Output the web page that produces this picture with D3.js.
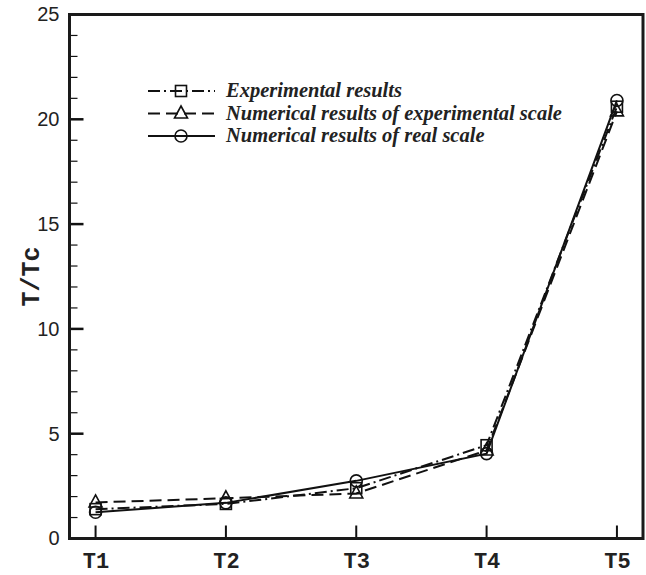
<!DOCTYPE html>
<html>
<head>
<meta charset="utf-8">
<script src="https://cdn.jsdelivr.net/npm/d3@7"></script>
<style>
  body { margin: 0; background: #fff; }
  svg { display: block; }
</style>
</head>
<body>
<svg width="646" height="575"></svg>
<script>
// data
const categories = ['T1', 'T2', 'T3', 'T4', 'T5'];
const experimental = [1.4, 1.65, 2.4, 4.45, 20.6];
const numericalExpScale = [1.72, 1.92, 2.15, 4.2, 20.38];
const numericalRealScale = [1.25, 1.7, 2.75, 4.05, 20.9];
const yTicks = [0, 5, 10, 15, 20, 25];
const legendLabels = [
  'Experimental results',
  'Numerical results of experimental scale',
  'Numerical results of real scale'
];

const svg = d3.select('svg');
const plotLeft = 69.5, plotRight = 643, plotTop = 14.5, plotBottom = 538.5;

const x = d3.scaleLinear().domain([-0.2, 4.2]).range([plotLeft, plotRight]);
const y = d3.scaleLinear().domain([0, 25]).range([plotBottom, plotTop]);

const series = [
  { values: experimental, dash: '12,4,2,4', marker: 'square' },
  { values: numericalExpScale, dash: '12,6', marker: 'triangle' },
  { values: numericalRealScale, dash: null, marker: 'circle' }
];

const g = svg.append('g');

// 折線
const line = d3.line()
  .x((d, i) => x(i))
  .y((d) => y(d));

series.forEach((s) => {
  g.append('path')
    .datum(s.values)
    .attr('d', line)
    .attr('fill', 'none')
    .attr('stroke', '#111')
    .attr('stroke-width', 2)
    .attr('stroke-dasharray', s.dash);
});

function drawMarker(sel, type, cx, cy) {
  if (type === 'square') {
    sel.append('rect')
      .attr('x', cx - 5.5).attr('y', cy - 5.5)
      .attr('width', 11).attr('height', 11)
      .attr('fill', 'none').attr('stroke', '#111').attr('stroke-width', 1.6);
  } else if (type === 'triangle') {
    sel.append('path')
      .attr('d', `M${cx},${cy - 7.5} L${cx + 6.5},${cy + 4.5} L${cx - 6.5},${cy + 4.5} Z`)
      .attr('fill', 'none').attr('stroke', '#111').attr('stroke-width', 1.6);
  } else {
    sel.append('circle')
      .attr('cx', cx).attr('cy', cy).attr('r', 6)
      .attr('fill', 'none').attr('stroke', '#111').attr('stroke-width', 1.6);
  }
}

series.forEach((s) => {
  s.values.forEach((v, i) => drawMarker(g, s.marker, x(i), y(v)));
});

// 座標軸
const yAxis = d3.axisLeft(y).tickValues(yTicks).tickSize(0).tickPadding(10);
const yAxisG = svg.append('g')
  .attr('transform', `translate(${plotLeft},0)`)
  .call(yAxis);
yAxisG.select('.domain').remove();
yAxisG.selectAll('text')
  .attr('font-family', 'Liberation Sans, Arial, sans-serif')
  .attr('font-size', 20)
  .attr('fill', '#222');

// y 主刻度 / 次刻度 (向內)
const minor = d3.range(0, 25, 1).filter((v) => v % 5 !== 0);
svg.append('g').selectAll('line')
  .data(yTicks).join('line')
  .attr('x1', plotLeft).attr('x2', plotLeft + 14)
  .attr('y1', (d) => y(d)).attr('y2', (d) => y(d))
  .attr('stroke', '#111').attr('stroke-width', 2.5);
svg.append('g').selectAll('line')
  .data(minor).join('line')
  .attr('x1', plotLeft).attr('x2', plotLeft + 8)
  .attr('y1', (d) => y(d)).attr('y2', (d) => y(d))
  .attr('stroke', '#111').attr('stroke-width', 1.2);

const xAxis = d3.axisBottom(x).tickValues(d3.range(categories.length))
  .tickFormat((i) => categories[i]).tickSize(0).tickPadding(14);
const xAxisG = svg.append('g')
  .attr('transform', `translate(0,${plotBottom})`)
  .call(xAxis);
xAxisG.select('.domain').remove();
xAxisG.selectAll('text')
  .attr('font-family', 'Liberation Mono, Courier New, monospace')
  .attr('font-weight', 'bold')
  .attr('font-size', 22)
  .attr('fill', '#222');

svg.append('g').selectAll('line')
  .data(d3.range(categories.length)).join('line')
  .attr('x1', (d) => x(d)).attr('x2', (d) => x(d))
  .attr('y1', plotBottom).attr('y2', plotBottom - 13)
  .attr('stroke', '#111').attr('stroke-width', 2);

// 外框
svg.append('rect')
  .attr('x', plotLeft).attr('y', plotTop)
  .attr('width', plotRight - plotLeft).attr('height', plotBottom - plotTop)
  .attr('fill', 'none').attr('stroke', '#1a1a1a').attr('stroke-width', 3);

// y 軸標題
svg.append('text')
  .attr('transform', `translate(39,${(plotTop + plotBottom) / 2}) rotate(-90)`)
  .attr('text-anchor', 'middle')
  .attr('font-family', 'Liberation Mono, Courier New, monospace')
  .attr('font-weight', 'bold')
  .attr('font-size', 25)
  .attr('fill', '#222')
  .text('T/Tc');

// 圖例
const legend = svg.append('g');
const legendY = d3.scalePoint().domain(d3.range(legendLabels.length)).range([91, 136]);
series.forEach((s, i) => {
  const ly = legendY(i);
  legend.append('line')
    .attr('x1', 148).attr('x2', 215)
    .attr('y1', ly).attr('y2', ly)
    .attr('stroke', '#111').attr('stroke-width', 2)
    .attr('stroke-dasharray', s.dash);
  drawMarker(legend, s.marker, 181, ly);
  legend.append('text')
    .attr('x', 226).attr('y', ly + 6)
    .attr('font-family', 'Liberation Serif, Times New Roman, serif')
    .attr('font-style', 'italic')
    .attr('font-weight', 'bold')
    .attr('font-size', 20.5)
    .attr('fill', '#222')
    .text(legendLabels[i]);
});
</script>
</body>
</html>
